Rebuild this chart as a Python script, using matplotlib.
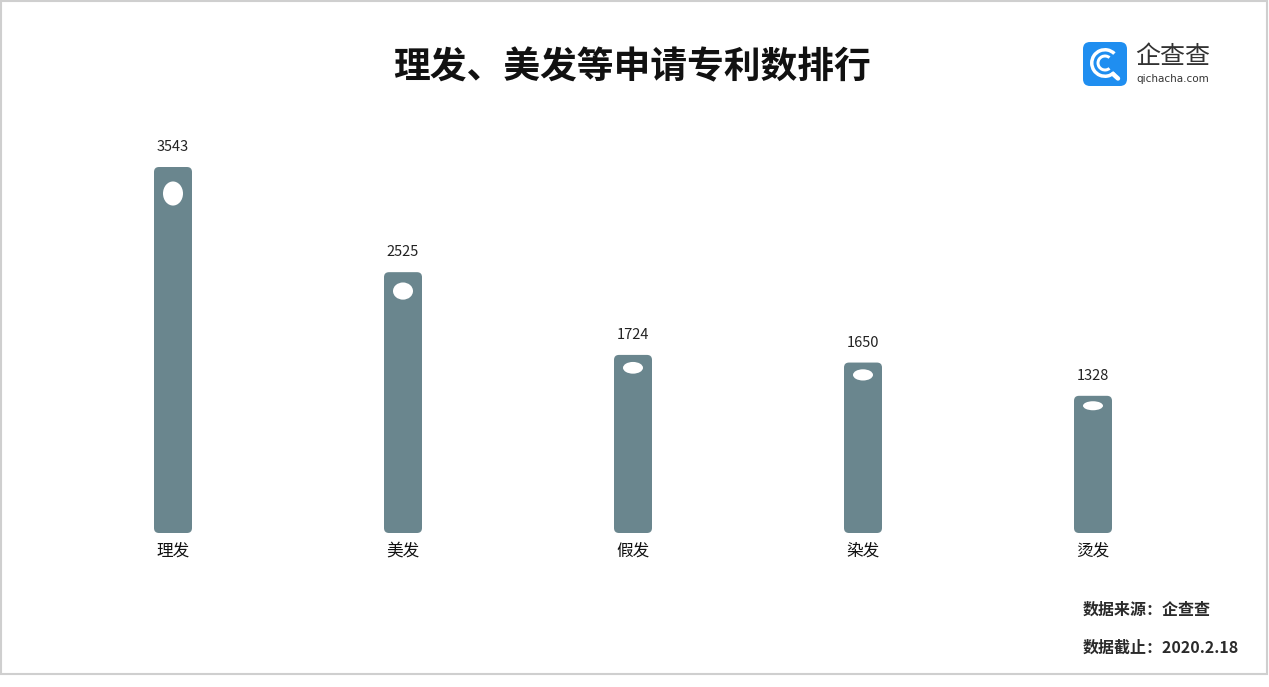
import matplotlib
matplotlib.use('Agg')
import matplotlib.pyplot as plt
from matplotlib.patches import FancyBboxPatch, Ellipse, Wedge, Rectangle

plt.rcParams['font.family'] = ['Noto Sans CJK SC', 'DejaVu Sans']

# data
categories = ['理发', '美发', '假发', '染发', '烫发']
values = [3543, 2525, 1724, 1650, 1328]
title = '理发、美发等申请专利数排行'
source_text = '数据来源：企查查'
date_text = '数据截止：2020.2.18'

bar_color = '#6a868e'
W, H = 1269, 687

fig = plt.figure(figsize=(W / 100, H / 100), dpi=100)
ax = fig.add_axes([0, 0, 1, 1])

# scales (px per unit) so the bars sit where the reference has them
px_x = 230.0
px_y = 0.1033
ax.set_xlim(-173 / px_x, (W - 173) / px_x)
ax.set_ylim(-154 / px_y, (H - 154) / px_y)
ax.axis('off')

bar_w = 38 / px_x
aspect = (1 / px_y) / (1 / px_x)
for i, v in enumerate(values):
    bar = FancyBboxPatch((i - bar_w / 2, 0), bar_w, v,
                         boxstyle='round,pad=0,rounding_size=%f' % (5 / px_x),
                         mutation_aspect=aspect, fc=bar_color, ec='none')
    ax.add_patch(bar)
    # white hole near the top, size follows the value
    eh = v * 0.0068
    ax.add_patch(Ellipse((i, v - (eh * 1.1) / px_y), 20 / px_x, eh / px_y,
                         fc='white', ec='none'))
    ax.text(i, v + 20 / px_y, str(v), ha='center', va='center', fontsize=10.5, color='#222222')
    ax.text(i, -18 / px_y, categories[i], ha='center', va='center', fontsize=12, color='#111111')

# title
fig.text(632 / W, 1 - 68 / H, title, ha='center', va='center', fontsize=26.5,
         fontweight='bold', color='#111111')

# logo (own little axes so circles stay round)
lax = fig.add_axes([1083 / W, 1 - 86 / H, 44 / W, 44 / H])
lax.set_xlim(0, 44)
lax.set_ylim(0, 44)
lax.axis('off')
lax.add_patch(FancyBboxPatch((0, 0), 44, 44, boxstyle='round,pad=0,rounding_size=7',
                             fc='#1f8ef0', ec='none'))
lax.add_patch(Wedge((22, 23), 15, 45, 315, width=3.5, fc='white', ec='none'))
lax.add_patch(Wedge((22, 23), 8.5, 50, 310, width=3.0, fc='white', ec='none'))
lax.plot([30, 35], [12, 7.5], color='white', lw=3.2, solid_capstyle='round')

fig.text(1135 / W, 1 - 57 / H, '企查查', ha='left', va='center', fontsize=18, color='#333333')
fig.text(1136 / W, 1 - 79 / H, 'qichacha.com', ha='left', va='center', fontsize=7.5,
         color='#333333', family=['DejaVu Sans'])

# footer
fig.text(1083 / W, 1 - 610 / H, source_text, ha='left', va='center', fontsize=11.5,
         fontweight='bold', color='#2a2a2a')
fig.text(1083 / W, 1 - 648 / H, date_text, ha='left', va='center', fontsize=11.5,
         fontweight='bold', color='#2a2a2a')

# frame
fig.patches.append(Rectangle((1 / W, 1 - 674 / H), 1266 / W, 673 / H,
                             transform=fig.transFigure, fc='none', ec='#cfcfcf', lw=1.5))

fig.savefig('out.png', dpi=100)
